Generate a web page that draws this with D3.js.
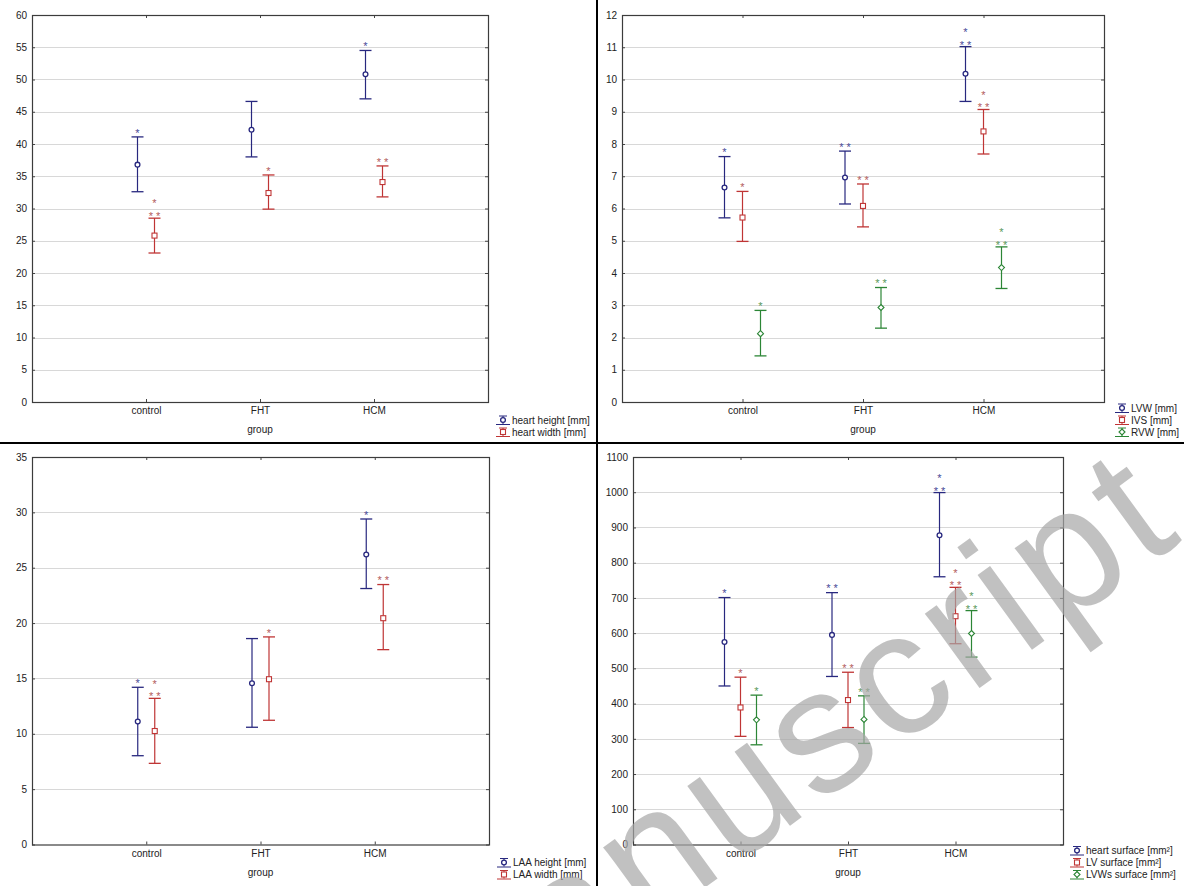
<!DOCTYPE html>
<html>
<head>
<meta charset="utf-8">
<script src="https://cdn.jsdelivr.net/npm/d3@7/dist/d3.min.js"></script>
<style>
  body { margin: 0; background: #fff; }
  svg { display: block; font-family: "Liberation Sans", Arial, sans-serif; }
</style>
</head>
<body>
<svg id="chart" width="1184" height="886"></svg>
<script>
const groups = ['control', 'FHT', 'HCM'];

// heart height / width [mm]
const heartHeightMean = [36.8, 42.2, 50.8];
const heartHeightLo   = [32.6, 38.0, 47.0];
const heartHeightHi   = [41.1, 46.6, 54.5];
const heartHeightStars = ['*', '', '*'];
const heartWidthMean = [25.8, 32.4, 34.1];
const heartWidthLo   = [23.1, 29.9, 31.8];
const heartWidthHi   = [28.5, 35.2, 36.6];
const heartWidthStars = ['*\n**', '*', '**'];

// wall thickness [mm]
const lvwMean = [6.65, 6.96, 10.18];
const lvwLo   = [5.71, 6.14, 9.32];
const lvwHi   = [7.61, 7.78, 11.02];
const lvwStars = ['*', '**', '*\n**'];
const ivsMean = [5.72, 6.08, 8.39];
const ivsLo   = [4.98, 5.43, 7.69];
const ivsHi   = [6.53, 6.76, 9.07];
const ivsStars = ['*', '**', '*\n**'];
const rvwMean = [2.12, 2.93, 4.17];
const rvwLo   = [1.43, 2.29, 3.52];
const rvwHi   = [2.84, 3.55, 4.81];
const rvwStars = ['*', '**', '*\n**'];

// LAA [mm]
const laaHeightMean = [11.1, 14.57, 26.2];
const laaHeightLo   = [8.02, 10.59, 23.12];
const laaHeightHi   = [14.2, 18.6, 29.4];
const laaHeightStars = ['*', '', '*'];
const laaWidthMean = [10.25, 14.93, 20.44];
const laaWidthLo   = [7.33, 11.22, 17.6];
const laaWidthHi   = [13.2, 18.75, 23.48];
const laaWidthStars = ['*\n**', '*', '**'];

// surfaces [mm2]
const heartSurfMean = [575, 595, 878];
const heartSurfLo   = [450, 477, 760];
const heartSurfHi   = [701, 715, 999];
const heartSurfStars = ['*', '**', '*\n**'];
const lvSurfMean = [389, 410, 648];
const lvSurfLo   = [307, 332, 570];
const lvSurfHi   = [475, 489, 730];
const lvSurfStars = ['*', '**', '*\n**'];
const lvwsSurfMean = [354, 355, 599];
const lvwsSurfLo   = [283, 287, 532];
const lvwsSurfHi   = [424, 422, 664];
const lvwsSurfStars = ['*', '**', '*\n**'];

const lineColor = { blue: '#28287f', red: '#bf3535', green: '#2c8636' };
const starColor = { blue: '#4a4a96', red: '#b25c5c', green: '#5a985a' };

const panels = [
  { left: 32, right: 488, top: 15, bottom: 402, yMax: 60, yStep: 5, spread: 17, legendX: 512,
    series: [
      { name: 'heart height [mm]', mean: heartHeightMean, lo: heartHeightLo, hi: heartHeightHi, stars: heartHeightStars, c: 'blue', m: 'circle' },
      { name: 'heart width [mm]', mean: heartWidthMean, lo: heartWidthLo, hi: heartWidthHi, stars: heartWidthStars, c: 'red', m: 'square' }
    ] },
  { left: 622, right: 1104, top: 15, bottom: 402, yMax: 12, yStep: 1, spread: 18, legendX: 1131,
    series: [
      { name: 'LVW [mm]', mean: lvwMean, lo: lvwLo, hi: lvwHi, stars: lvwStars, c: 'blue', m: 'circle' },
      { name: 'IVS [mm]', mean: ivsMean, lo: ivsLo, hi: ivsHi, stars: ivsStars, c: 'red', m: 'square' },
      { name: 'RVW [mm]', mean: rvwMean, lo: rvwLo, hi: rvwHi, stars: rvwStars, c: 'green', m: 'diamond' }
    ] },
  { left: 32, right: 489, top: 457, bottom: 844.5, yMax: 35, yStep: 5, spread: 17, legendX: 513,
    series: [
      { name: 'LAA height [mm]', mean: laaHeightMean, lo: laaHeightLo, hi: laaHeightHi, stars: laaHeightStars, c: 'blue', m: 'circle' },
      { name: 'LAA width [mm]', mean: laaWidthMean, lo: laaWidthLo, hi: laaWidthHi, stars: laaWidthStars, c: 'red', m: 'square' }
    ] },
  { left: 633, right: 1063, top: 457, bottom: 844.5, yMax: 1100, yStep: 100, spread: 16, legendX: 1086,
    series: [
      { name: 'heart surface [mm²]', mean: heartSurfMean, lo: heartSurfLo, hi: heartSurfHi, stars: heartSurfStars, c: 'blue', m: 'circle' },
      { name: 'LV surface [mm²]', mean: lvSurfMean, lo: lvSurfLo, hi: lvSurfHi, stars: lvSurfStars, c: 'red', m: 'square' },
      { name: 'LVWs surface [mm²]', mean: lvwsSurfMean, lo: lvwsSurfLo, hi: lvwsSurfHi, stars: lvwsSurfStars, c: 'green', m: 'diamond' }
    ] }
];

const svg = d3.select('#chart');

function drawMarker(g, type, x, y, color) {
  if (type === 'circle') {
    g.append('circle').attr('cx', x).attr('cy', y).attr('r', 2.4)
      .attr('fill', '#fff').attr('stroke', color).attr('stroke-width', 1.3);
  } else if (type === 'square') {
    g.append('rect').attr('x', x - 2.5).attr('y', y - 2.5).attr('width', 5).attr('height', 5)
      .attr('fill', '#fff').attr('stroke', color).attr('stroke-width', 1.1);
  } else {
    g.append('path').attr('d', `M${x},${y - 3}L${x + 3},${y}L${x},${y + 3}L${x - 3},${y}Z`)
      .attr('fill', '#fff').attr('stroke', color).attr('stroke-width', 1.1);
  }
}

panels.forEach(p => {
  const g = svg.append('g');
  const x = d3.scaleLinear().domain([0, groups.length + 1]).range([p.left, p.right]);
  const y = d3.scaleLinear().domain([0, p.yMax]).range([p.bottom, p.top]);
  const yTicks = d3.range(0, p.yMax + p.yStep / 2, p.yStep);

  // grid
  g.append('g').selectAll('line')
    .data(yTicks.filter(v => v > 0 && v < p.yMax))
    .join('line')
    .attr('x1', p.left).attr('x2', p.right)
    .attr('y1', d => Math.round(y(d)) + 0.5).attr('y2', d => Math.round(y(d)) + 0.5)
    .attr('stroke', '#d8d8d8').attr('stroke-width', 1.2);

  const styleAxis = a => {
    a.select('.domain').remove();
    a.selectAll('line').attr('stroke', '#444');
    a.selectAll('text').attr('fill', '#222').style('font-size', '10px').style('font-family', '"Liberation Sans", Arial, sans-serif');
  };

  g.append('g').attr('transform', `translate(${p.left},0)`)
    .call(d3.axisLeft(y).tickValues(yTicks).tickSize(-3).tickPadding(5).tickFormat(d3.format('d')))
    .call(styleAxis);
  g.append('g').attr('transform', `translate(${p.right},0)`)
    .call(d3.axisRight(y).tickValues(yTicks).tickSize(-3).tickFormat(''))
    .call(styleAxis);
  g.append('g').attr('transform', `translate(0,${p.bottom})`)
    .call(d3.axisBottom(x).tickValues(groups.map((d, i) => i + 1)).tickFormat(i => groups[i - 1]).tickSize(-3).tickPadding(5))
    .call(styleAxis);
  g.append('g').attr('transform', `translate(0,${p.top})`)
    .call(d3.axisTop(x).tickValues(groups.map((d, i) => i + 1)).tickSize(-3).tickFormat(''))
    .call(styleAxis);

  // frame
  g.append('rect')
    .attr('x', p.left + 0.5).attr('y', p.top + 0.5)
    .attr('width', p.right - p.left).attr('height', p.bottom - p.top)
    .attr('fill', 'none').attr('stroke', '#3c3c3c').attr('stroke-width', 1.2);

  g.append('text')
    .attr('x', (p.left + p.right) / 2).attr('y', p.bottom + 31)
    .attr('text-anchor', 'middle').attr('fill', '#222').style('font-size', '10px')
    .text('group');

  // error bars
  const n = p.series.length;
  p.series.forEach((s, si) => {
    const off = (si - (n - 1) / 2) * p.spread;
    const col = lineColor[s.c];
    const sg = g.append('g');
    groups.forEach((grp, gi) => {
      const cx = x(gi + 1) + off;
      const yHi = y(s.hi[gi]), yLo = y(s.lo[gi]), yM = y(s.mean[gi]);
      sg.append('line').attr('x1', cx).attr('x2', cx).attr('y1', yHi).attr('y2', yLo)
        .attr('stroke', col).attr('stroke-width', 1.2);
      [yHi, yLo].forEach(yy => {
        sg.append('line').attr('x1', cx - 6).attr('x2', cx + 6).attr('y1', yy).attr('y2', yy)
          .attr('stroke', col).attr('stroke-width', 1.3);
      });
      drawMarker(sg, s.m, cx, yM, col);

      // significance marks, one row per line of the label
      const rows = s.stars[gi] ? s.stars[gi].split('\n') : [];
      const centers = rows.length === 2 ? [yHi - 17, yHi - 4.3] : [yHi - 6.5];
      rows.forEach((r, ri) => {
        sg.append('text')
          .attr('x', cx).attr('y', centers[ri] + 6.3)
          .attr('text-anchor', 'middle')
          .attr('fill', starColor[s.c])
          .style('font-size', '11px')
          .text(r.split('').join(' '));
      });
    });

    // legend entry
    const ly = p.bottom + 30 - (n - 1 - si) * 12;
    const lx = p.legendX - 9;
    const lg = g.append('g');
    lg.append('line').attr('x1', lx).attr('x2', lx).attr('y1', ly - 4).attr('y2', ly + 4).attr('stroke', col);
    lg.append('line').attr('x1', lx - 4).attr('x2', lx + 4).attr('y1', ly - 4).attr('y2', ly - 4).attr('stroke', col);
    lg.append('line').attr('x1', lx - 7).attr('x2', lx + 7).attr('y1', ly + 4.5).attr('y2', ly + 4.5).attr('stroke', col);
    drawMarker(lg, s.m, lx, ly, col);
    lg.append('text').attr('x', p.legendX).attr('y', ly + 3.5)
      .attr('fill', '#222').style('font-size', '10px').text(s.name);
  });
});

// panel dividers
svg.append('line').attr('x1', 597).attr('x2', 597).attr('y1', 0).attr('y2', 886)
  .attr('stroke', '#000').attr('stroke-width', 2);
svg.append('line').attr('x1', 0).attr('x2', 1184).attr('y1', 443).attr('y2', 443)
  .attr('stroke', '#000').attr('stroke-width', 2);

// watermark
svg.append('text')
  .attr('transform', 'translate(440,1080) rotate(-36)')
  .attr('fill', '#a6a6a6').attr('fill-opacity', 0.7)
  .style('font-size', '175px')
  .style('letter-spacing', '7px')
  .text('manuscript');
</script>
</body>
</html>
